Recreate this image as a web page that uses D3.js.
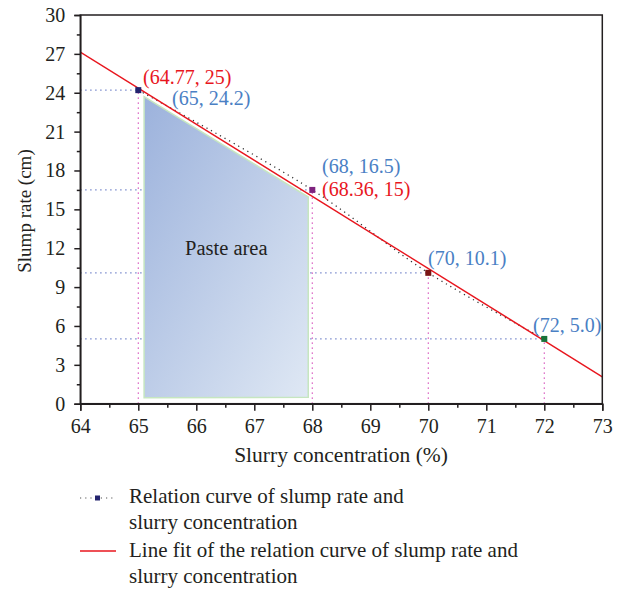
<!DOCTYPE html>
<html>
<head>
<meta charset="utf-8">
<script src="https://cdn.jsdelivr.net/npm/d3@7"></script>
<style>
  body { margin: 0; background: #fff; }
  text { font-family: "Liberation Serif", "DejaVu Serif", serif; }
</style>
</head>
<body>
<svg id="chart" width="623" height="590"></svg>
<script>
// Measured slump rate at each slurry concentration
const concentration = [65, 68, 70, 72];
const slump = [24.2, 16.5, 10.1, 5.0];
const pointColors = ["#24246e", "#7e237e", "#7a1414", "#17733a"];
const pointLabels = ["(65, 24.2)", "(68, 16.5)", "(70, 10.1)", "(72, 5.0)"];

// Linear fit through two reference points
const fitPoints = [[64.77, 25], [68.36, 15]];
const fitLabels = ["(64.77, 25)", "(68.36, 15)"];

// Paste area region
const pasteArea = [[65.1, 23.7], [67.93, 15.95], [67.93, 0.5], [65.1, 0.45]];

const xTicks = [64, 65, 66, 67, 68, 69, 70, 71, 72, 73];
const yTicks = [0, 3, 6, 9, 12, 15, 18, 21, 24, 27, 30];

const svg = d3.select("#chart");
const x = d3.scaleLinear().domain([64, 73]).range([80.3, 602.3]);
const y = d3.scaleLinear().domain([0, 30]).range([403.7, 15]);

const defs = svg.append("defs");
const grad = defs.append("linearGradient").attr("id", "pasteGrad")
  .attr("x1", "0%").attr("y1", "0%").attr("x2", "100%").attr("y2", "100%");
grad.append("stop").attr("offset", "0%").attr("stop-color", "#9cb2dc");
grad.append("stop").attr("offset", "100%").attr("stop-color", "#dfe8f4");

svg.append("clipPath").attr("id", "plotClip").append("rect")
  .attr("x", x(64)).attr("y", y(30)).attr("width", x(73) - x(64)).attr("height", y(0) - y(30));

// Guide lines from the axes to each measured point
const guides = svg.append("g");
concentration.forEach((c, i) => {
  guides.append("line")
    .attr("x1", x(64)).attr("x2", x(c)).attr("y1", y(slump[i])).attr("y2", y(slump[i]))
    .attr("stroke", "#5a6ec0").attr("stroke-width", 1.2).attr("stroke-dasharray", "1.2,3.8");
  guides.append("line")
    .attr("x1", x(c)).attr("x2", x(c)).attr("y1", y(0)).attr("y2", y(slump[i]))
    .attr("stroke", "#d23cb4").attr("stroke-width", 1.2).attr("stroke-dasharray", "1.2,3.8");
});

// Paste area
svg.append("path")
  .attr("d", d3.line().x(d => x(d[0])).y(d => y(d[1]))(pasteArea) + "Z")
  .attr("fill", "url(#pasteGrad)")
  .attr("stroke", "#c6e6c0").attr("stroke-width", 1.5);

svg.append("text").attr("x", 185).attr("y", 255)
  .attr("font-size", 20.5).attr("fill", "#231f20").text("Paste area");

// Relation curve (dotted)
const pts = concentration.map((c, i) => [c, slump[i]]);
svg.append("path")
  .attr("d", d3.line().x(d => x(d[0])).y(d => y(d[1])).curve(d3.curveCatmullRom)(pts))
  .attr("fill", "none").attr("stroke", "#333").attr("stroke-width", 1.3)
  .attr("stroke-dasharray", "1.2,4");

// Fit line across the full x range
const slope = (fitPoints[1][1] - fitPoints[0][1]) / (fitPoints[1][0] - fitPoints[0][0]);
const fitY = v => fitPoints[0][1] + slope * (v - fitPoints[0][0]);
svg.append("line").attr("clip-path", "url(#plotClip)")
  .attr("x1", x(64)).attr("y1", y(fitY(64))).attr("x2", x(73)).attr("y2", y(fitY(73)))
  .attr("stroke", "#e8161e").attr("stroke-width", 1.4);

// Point markers
svg.selectAll("rect.pt").data(pts).enter().append("rect")
  .attr("x", d => x(d[0]) - 3).attr("y", d => y(d[1]) - 3)
  .attr("width", 6).attr("height", 6)
  .attr("fill", (d, i) => pointColors[i]);

// Point labels
const blue = "#4a80c4", red = "#e8161e";
const labelPos = [[172, 105], [322, 173], [428, 265], [533, 332]];
pointLabels.forEach((t, i) => {
  svg.append("text").attr("x", labelPos[i][0]).attr("y", labelPos[i][1])
    .attr("font-size", 20).attr("fill", blue).text(t);
});
const fitPos = [[143, 84], [322, 196]];
fitLabels.forEach((t, i) => {
  svg.append("text").attr("x", fitPos[i][0]).attr("y", fitPos[i][1])
    .attr("font-size", 20).attr("fill", red).text(t);
});

// Frame
svg.append("rect").attr("x", x(64)).attr("y", y(30))
  .attr("width", x(73) - x(64)).attr("height", y(0) - y(30))
  .attr("fill", "none").attr("stroke", "#231f20").attr("stroke-width", 1.5);

// Axes
const axisColor = "#231f20";
svg.append("g").attr("transform", `translate(0,${y(0)})`)
  .call(d3.axisBottom(x).tickValues(xTicks).tickFormat(d3.format("d")).tickSize(7).tickPadding(8));
svg.append("g").attr("transform", `translate(0,${y(0)})`)
  .call(d3.axisBottom(x).tickValues(d3.range(64.5, 73, 1)).tickFormat("").tickSize(4))
  .call(g => g.select(".domain").remove());
svg.append("g").attr("transform", `translate(${x(64)},0)`)
  .call(d3.axisLeft(y).tickValues(yTicks).tickFormat(d3.format("d")).tickSize(6).tickPadding(9));
svg.append("g").attr("transform", `translate(${x(64)},0)`)
  .call(d3.axisLeft(y).tickValues(d3.range(1.5, 30, 3)).tickFormat("").tickSize(3.5))
  .call(g => g.select(".domain").remove());

svg.selectAll(".tick line").attr("stroke", axisColor).attr("stroke-width", 1.5);
svg.selectAll(".domain").attr("stroke", axisColor).attr("stroke-width", 1.5);
svg.selectAll(".tick text").attr("font-size", 20).attr("fill", axisColor)
  .attr("font-family", "Liberation Serif, DejaVu Serif, serif");

// Axis titles
svg.append("text").attr("x", 341).attr("y", 462).attr("text-anchor", "middle")
  .attr("font-size", 21.5).attr("fill", axisColor).text("Slurry concentration (%)");
svg.append("text").attr("transform", "translate(31,211) rotate(-90)").attr("text-anchor", "middle")
  .attr("font-size", 19).attr("fill", axisColor).text("Slump rate (cm)");

// Legend
const lg = svg.append("g");
lg.append("line").attr("x1", 80).attr("x2", 116).attr("y1", 498).attr("y2", 498)
  .attr("stroke", "#555").attr("stroke-width", 1.2).attr("stroke-dasharray", "1.2,4");
lg.append("rect").attr("x", 95).attr("y", 495.5).attr("width", 5).attr("height", 5).attr("fill", "#24246e");
lg.append("line").attr("x1", 80).attr("x2", 116).attr("y1", 551).attr("y2", 551)
  .attr("stroke", "#e8161e").attr("stroke-width", 1.4);
const legendLines = [
  ["Relation curve of slump rate and", 503],
  ["slurry concentration", 529],
  ["Line fit of the relation curve of slump rate and", 557],
  ["slurry concentration", 583]
];
legendLines.forEach(([t, yy]) => {
  lg.append("text").attr("x", 129).attr("y", yy).attr("font-size", 21)
    .attr("fill", axisColor).text(t);
});
</script>
</body>
</html>
